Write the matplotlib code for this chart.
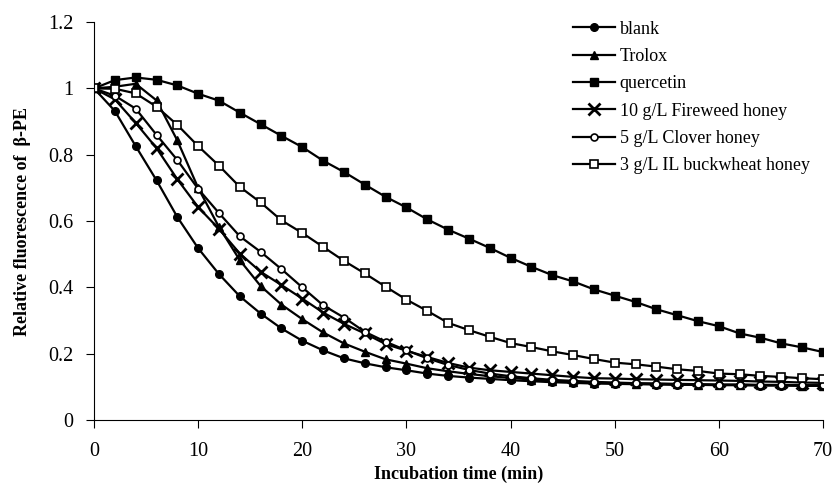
import matplotlib
matplotlib.use("Agg")
import matplotlib.pyplot as plt

plt.rcParams['font.family'] = ['Liberation Serif', 'DejaVu Serif']

# Время инкубации, мин
time_min = [0, 2, 4, 6, 8, 10, 12, 14, 16, 18, 20, 22, 24, 26, 28, 30, 32, 34,
            36, 38, 40, 42, 44, 46, 48, 50, 52, 54, 56, 58, 60, 62, 64, 66, 68, 70]

# Относительная флуоресценция β-PE
blank = [1.0, 0.932, 0.826, 0.723, 0.612, 0.518, 0.44, 0.373, 0.321, 0.276, 0.239, 0.21,
         0.186, 0.171, 0.159, 0.15, 0.14, 0.133, 0.128, 0.124, 0.12, 0.117, 0.114, 0.112,
         0.11, 0.109, 0.108, 0.107, 0.106, 0.106, 0.105, 0.105, 0.104, 0.104, 0.103, 0.103]
trolox = [1.0, 1.005, 1.014, 0.964, 0.843, 0.7, 0.582, 0.482, 0.404, 0.348, 0.304, 0.264,
          0.231, 0.206, 0.183, 0.17, 0.156, 0.147, 0.139, 0.132, 0.127, 0.122, 0.118, 0.115,
          0.113, 0.111, 0.11, 0.109, 0.108, 0.107, 0.106, 0.106, 0.105, 0.105, 0.104, 0.104]
quercetin = [1.0, 1.025, 1.033, 1.026, 1.009, 0.984, 0.963, 0.927, 0.892, 0.857, 0.823, 0.782,
             0.748, 0.71, 0.673, 0.641, 0.605, 0.574, 0.547, 0.519, 0.489, 0.462, 0.437, 0.418,
             0.394, 0.375, 0.356, 0.334, 0.316, 0.298, 0.283, 0.261, 0.248, 0.231, 0.219, 0.205]
fireweed = [1.0, 0.967, 0.896, 0.82, 0.726, 0.642, 0.576, 0.502, 0.447, 0.407, 0.366, 0.324,
            0.29, 0.261, 0.229, 0.209, 0.19, 0.172, 0.158, 0.15, 0.145, 0.14, 0.135, 0.13,
            0.126, 0.125, 0.123, 0.122, 0.121, 0.12, 0.119, 0.118, 0.116, 0.115, 0.113, 0.112]
clover = [1.0, 0.978, 0.939, 0.86, 0.784, 0.697, 0.624, 0.554, 0.507, 0.455, 0.4, 0.346,
          0.309, 0.266, 0.236, 0.21, 0.186, 0.166, 0.151, 0.14, 0.132, 0.126, 0.121, 0.118,
          0.115, 0.113, 0.111, 0.11, 0.109, 0.108, 0.107, 0.107, 0.106, 0.106, 0.105, 0.105]
buckwheat = [1.0, 0.999, 0.985, 0.945, 0.89, 0.826, 0.767, 0.703, 0.656, 0.602, 0.564, 0.522,
             0.48, 0.442, 0.402, 0.363, 0.329, 0.293, 0.271, 0.251, 0.232, 0.22, 0.207, 0.196,
             0.184, 0.173, 0.168, 0.161, 0.153, 0.148, 0.14, 0.138, 0.133, 0.13, 0.126, 0.123]

labels = ['blank', 'Trolox', 'quercetin', '10 g/L Fireweed honey',
          '5 g/L Clover honey', '3 g/L IL buckwheat honey']

y_ticks = [0, 0.2, 0.4, 0.6, 0.8, 1.0, 1.2]
y_tick_labels = ['0', '0.2', '0.4', '0.6', '0.8', '1', '1.2']
x_ticks = [0, 10, 20, 30, 40, 50, 60, 70]

fig = plt.figure(figsize=(8.35, 4.91), dpi=100)
ax = fig.add_axes([0.1126, 0.1446, 0.873, 0.8104])

ax.plot(time_min, blank, color='black', lw=1.6, marker='o', ms=5.5, label=labels[0])
ax.plot(time_min, trolox, color='black', lw=1.6, marker='^', ms=6, label=labels[1])
ax.plot(time_min, quercetin, color='black', lw=1.6, marker='s', ms=6, label=labels[2])
ax.plot(time_min, fireweed, color='black', lw=1.6, marker='x', ms=8, mew=2, label=labels[3])
ax.plot(time_min, clover, color='black', lw=1.6, marker='o', ms=5, mfc='white', mew=1.2, label=labels[4])
ax.plot(time_min, buckwheat, color='black', lw=1.6, marker='s', ms=6, mfc='white', mew=1.2, label=labels[5])

ax.set_xlim(0, 70)
ax.set_ylim(0, 1.2)
ax.set_xticks(x_ticks)
ax.set_yticks(y_ticks)
ax.set_yticklabels(y_tick_labels)
ax.tick_params(direction='out', length=6, width=0.8, labelsize=14.5, colors='black')
ax.tick_params(axis='x', pad=10)
ax.tick_params(axis='y', pad=9)

ax.spines['top'].set_visible(False)
ax.spines['right'].set_visible(False)
ax.spines['left'].set_linewidth(0.8)
ax.spines['bottom'].set_linewidth(0.8)

ax.set_xlabel('Incubation time (min)', fontsize=13, fontweight='bold', labelpad=3)
ax.set_ylabel('Relative fluorescence of  β-PE', fontsize=13, fontweight='bold', labelpad=12)

ax.legend(loc='upper left', bbox_to_anchor=(0.6776, 0.9725), bbox_transform=fig.transFigure,
          frameon=False, fontsize=13, handlelength=2.3, handletextpad=0.28,
          labelspacing=0.57, borderaxespad=0)

plt.savefig('out.png', dpi=100)
